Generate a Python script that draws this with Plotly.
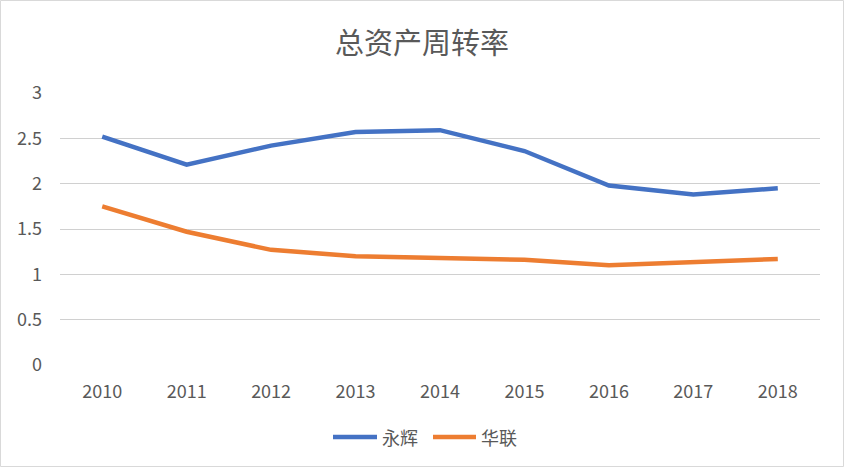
import plotly.graph_objects as go

years = ["2010", "2011", "2012", "2013", "2014", "2015", "2016", "2017", "2018"]
yonghui = [2.52, 2.21, 2.42, 2.57, 2.59, 2.36, 1.98, 1.88, 1.95]
hualian = [1.75, 1.47, 1.27, 1.20, 1.18, 1.16, 1.10, 1.14, 1.17]
series_names = ["永辉", "华联"]
series_colors = ["#4472C4", "#ED7D31"]
y_ticks = [0, 0.5, 1, 1.5, 2, 2.5, 3]
y_tick_labels = ["0", "0.5", "1", "1.5", "2", "2.5", "3"]

W, H = 844, 467
ml, mr, mt, mb = 60, 24, 93, 102
pw, ph = W - ml - mr, H - mt - mb

font_family = "Noto Sans CJK SC, Open Sans, sans-serif"
txt_color = "#595959"


def px_x(x):
    return (x - ml) / pw


def px_y(y):
    return (H - mb - y) / ph


fig = go.Figure()
for name, vals, col in zip(series_names, [yonghui, hualian], series_colors):
    fig.add_trace(go.Scatter(x=years, y=vals, name=name, mode="lines",
                             line=dict(color=col, width=4.5), showlegend=False,
                             hoverinfo="skip"))

# custom legend (swatches + labels)
shapes = [dict(type="rect", xref="paper", yref="paper",
               x0=px_x(0.5), x1=px_x(W - 0.5),
               y0=px_y(H - 0.5), y1=px_y(0.5),
               line=dict(color="#d9d9d9", width=1), layer="below")]
annotations = []
leg_y = 437
leg_items = [(333, 377, 380), (433, 476, 479)]
for (sx0, sx1, tx), name, col in zip(leg_items, series_names, series_colors):
    shapes.append(dict(type="line", xref="paper", yref="paper",
                       x0=px_x(sx0), x1=px_x(sx1), y0=px_y(leg_y), y1=px_y(leg_y),
                       line=dict(color=col, width=4.5)))
    annotations.append(dict(text=name, xref="paper", yref="paper",
                            x=px_x(tx), y=px_y(leg_y), xanchor="left", yanchor="middle",
                            showarrow=False, font=dict(size=18, color=txt_color)))

fig.update_layout(
    width=W, height=H,
    margin=dict(l=ml, r=mr, t=mt, b=mb),
    paper_bgcolor="white", plot_bgcolor="white",
    font=dict(family=font_family, color=txt_color, size=18),
    title=dict(text="总资产周转率", x=0.5, xanchor="center",
               y=1 - 44 / H, yanchor="middle", yref="container",
               font=dict(size=29, color=txt_color, family=font_family)),
    showlegend=False,
    xaxis=dict(type="category", range=[-0.5, 8.5], showgrid=False,
               showline=False, zeroline=False, ticks="",
               tickfont=dict(size=18, color=txt_color), ticklabelstandoff=14),
    yaxis=dict(range=[0, 3], tickvals=y_ticks, ticktext=y_tick_labels,
               showgrid=True, gridcolor="#d0d0d0", gridwidth=1,
               zeroline=False, showline=False, ticks="",
               tickfont=dict(size=18, color=txt_color), ticklabelstandoff=17),
    shapes=shapes,
    annotations=annotations,
)

fig.write_html("out.html", config={"displayModeBar": False},
               post_script="document.body.style.margin='0px';document.body.style.padding='0px';")
